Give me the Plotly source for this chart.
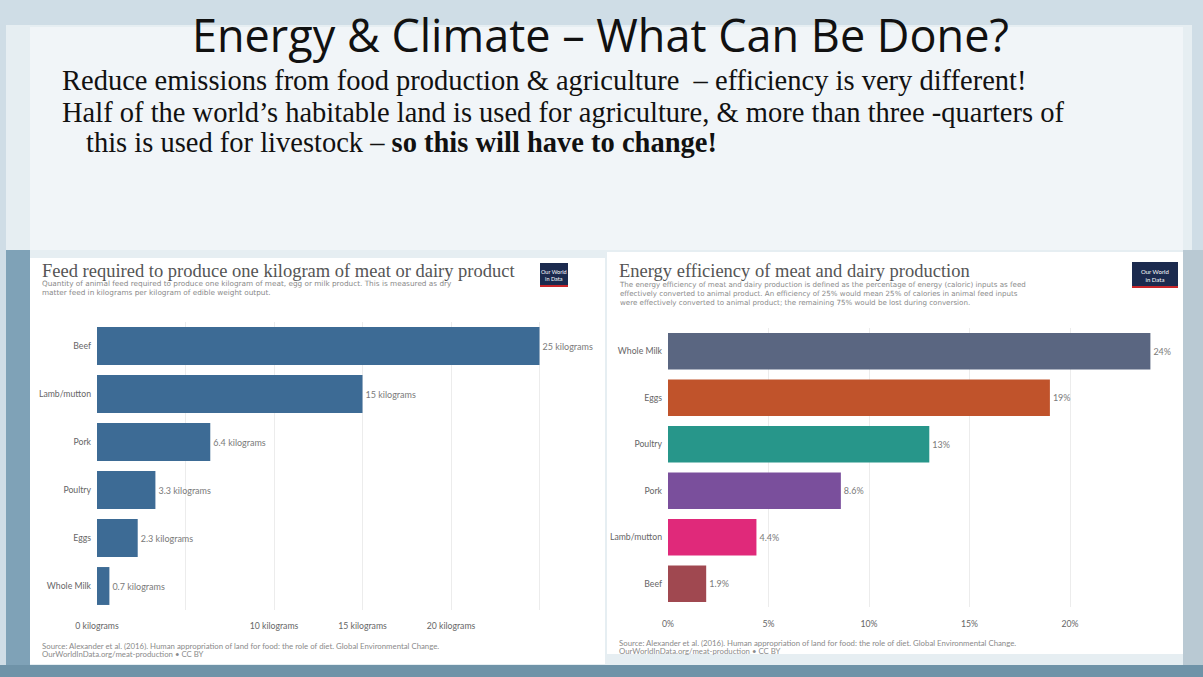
import plotly.graph_objects as go

W, H = 1203, 677

# ---------------- data ----------------
feed_categories = ["Beef", "Lamb/mutton", "Pork", "Poultry", "Eggs", "Whole Milk"]
feed_values = [25, 15, 6.4, 3.3, 2.3, 0.7]
feed_labels = ["25 kilograms", "15 kilograms", "6.4 kilograms", "3.3 kilograms",
               "2.3 kilograms", "0.7 kilograms"]
feed_tickvals = [0, 5, 10, 15, 20, 25]
feed_ticktext = ["0 kilograms", "", "10 kilograms", "15 kilograms", "20 kilograms", ""]

eff_categories = ["Whole Milk", "Eggs", "Poultry", "Pork", "Lamb/mutton", "Beef"]
eff_values = [24, 19, 13, 8.6, 4.4, 1.9]
eff_labels = ["24%", "19%", "13%", "8.6%", "4.4%", "1.9%"]
eff_colors = ["#5a6681", "#c0532b", "#27968a", "#7a4f9c", "#e0297a", "#a04850"]
eff_tickvals = [0, 5, 10, 15, 20]
eff_ticktext = ["0%", "5%", "10%", "15%", "20%"]


def X(px):
    return px / W


def Y(py):
    return 1 - py / H


fig = go.Figure()

fig.add_trace(go.Bar(
    x=feed_values, y=feed_categories, orientation="h",
    marker=dict(color="#3d6b95", line=dict(width=0)),
    text=feed_labels, textposition="outside", cliponaxis=False,
    textfont=dict(family="Lato", size=9, color="#7a7a7a"),
    xaxis="x", yaxis="y", showlegend=False, hoverinfo="skip",
))

fig.add_trace(go.Bar(
    x=eff_values, y=eff_categories, orientation="h",
    marker=dict(color=eff_colors, line=dict(width=0)),
    text=eff_labels, textposition="outside", cliponaxis=False,
    textfont=dict(family="Lato", size=9, color="#7a7a7a"),
    xaxis="x2", yaxis="y2", showlegend=False, hoverinfo="skip",
))

axis_font = dict(family="Lato", size=8.7, color="#666666")

fig.update_layout(
    width=W, height=H,
    margin=dict(l=0, r=0, t=0, b=0, autoexpand=False),
    paper_bgcolor="#d3e0e8",
    plot_bgcolor="rgba(0,0,0,0)",
    bargap=0.21,
    xaxis=dict(domain=[X(97), X(590)], range=[0, (590 - 97) / 17.7],
               tickvals=feed_tickvals, ticktext=feed_ticktext, automargin=False,
               showgrid=True, gridcolor="#ececec", gridwidth=1, zeroline=False,
               showline=False, ticks="", tickfont=axis_font, ticklabelstandoff=9,
               anchor="y", fixedrange=True),
    yaxis=dict(domain=[Y(610), Y(322)], categoryorder="array",
               categoryarray=feed_categories[::-1], automargin=False,
               showgrid=False, zeroline=False, showline=False, ticks="",
               tickfont=axis_font, ticklabelstandoff=5, anchor="x", fixedrange=True),
    xaxis2=dict(domain=[X(668), X(1175)], range=[0, (1175 - 668) / 20.1],
                tickvals=eff_tickvals, ticktext=eff_ticktext, automargin=False,
                showgrid=True, gridcolor="#ececec", gridwidth=1, zeroline=False,
                showline=False, ticks="", tickfont=axis_font, ticklabelstandoff=10,
                anchor="y2", fixedrange=True),
    yaxis2=dict(domain=[Y(607), Y(328)], categoryorder="array",
                categoryarray=eff_categories[::-1], automargin=False,
                showgrid=False, zeroline=False, showline=False, ticks="",
                tickfont=axis_font, ticklabelstandoff=5, anchor="x2", fixedrange=True),
)

shapes = []


def rect(x0, y0, x1, y1, color):
    shapes.append(dict(type="rect", xref="paper", yref="paper",
                       x0=X(x0), x1=X(x1), y0=Y(y1), y1=Y(y0),
                       fillcolor=color, line=dict(width=0), layer="below"))


# slide background
rect(0, 0, W, H, "#cfdde6")
rect(6, 25, 1192, 677, "#e6eef2")
rect(30, 27, 1183, 250, "#f1f5f8")
rect(6, 250, 30, 677, "#7fa2b7")
rect(1183, 250, 1203, 677, "#b9c9d3")
rect(0, 665, W, H, "#6f93a8")
# chart panels
rect(30, 258, 605, 664, "#ffffff")
rect(607, 252, 1183, 654, "#ffffff")
# OWID logos
rect(540, 263, 568, 287, "#1b2a4e")
rect(540, 285, 568, 287, "#c8262a")
rect(1132, 262, 1178, 288, "#1b2a4e")
rect(1132, 286, 1178, 288, "#c8262a")

annotations = []


def text(x, y, s, size, color="#333", family="Liberation Serif", xanchor="left",
         yanchor="middle", align="left"):
    annotations.append(dict(x=X(x), y=Y(y), xref="paper", yref="paper", text=s,
                            showarrow=False, xanchor=xanchor, yanchor=yanchor,
                            align=align, font=dict(family=family, size=size, color=color)))


# slide text
text(600, 35, "Energy &amp; Climate – What Can Be Done?", 45, "#111111",
     "Open Sans", xanchor="center")
text(60, 80, "Reduce emissions from food production &amp; agriculture  – efficiency is very different!",
     28.5, "#111111")
text(60, 112, "Half of the world’s habitable land is used for agriculture, &amp; more than three -quarters of",
     28.5, "#111111")
text(84, 142, "this is used for livestock – <b>so this will have to change!</b>", 28.5, "#111111")

sub_font = "DejaVu Sans"
# left chart titles
text(40, 271, "Feed required to produce one kilogram of meat or dairy product", 18.5, "#555555")
text(40, 288, "Quantity of animal feed required to produce one kilogram of meat, egg or milk product. "
              "This is measured as dry<br>matter feed in kilograms per kilogram of edible weight output.",
     7.3, "#8a8a8a", sub_font)
text(40, 646, "Source: Alexander et al. (2016). Human appropriation of land for food: the role of diet. "
              "Global Environmental Change.", 7.8, "#8a8a8a", "Lato")
text(40, 654, "OurWorldInData.org/meat-production • CC BY", 7.8, "#8a8a8a", "Lato")
text(554, 275, "Our World<br>in Data", 5.5, "#ffffff", "Lato", xanchor="center", align="center")

# right chart titles
text(617, 271, "Energy efficiency of meat and dairy production", 18.5, "#555555")
text(617, 294, "The energy efficiency of meat and dairy production is defined as the percentage of energy "
               "(caloric) inputs as feed<br>effectively converted to animal product. An efficiency of 25% "
               "would mean 25% of calories in animal feed inputs<br>were effectively converted to animal "
               "product; the remaining 75% would be lost during conversion.",
     7.1, "#8a8a8a", sub_font)
text(617, 643, "Source: Alexander et al. (2016). Human appropriation of land for food: the role of diet. "
               "Global Environmental Change.", 7.8, "#8a8a8a", "Lato")
text(617, 651, "OurWorldInData.org/meat-production • CC BY", 7.8, "#8a8a8a", "Lato")
text(1155, 275, "Our World<br>in Data", 6, "#ffffff", "Lato", xanchor="center", align="center")

fig.update_layout(shapes=shapes, annotations=annotations)

fig.write_html("out.html")
